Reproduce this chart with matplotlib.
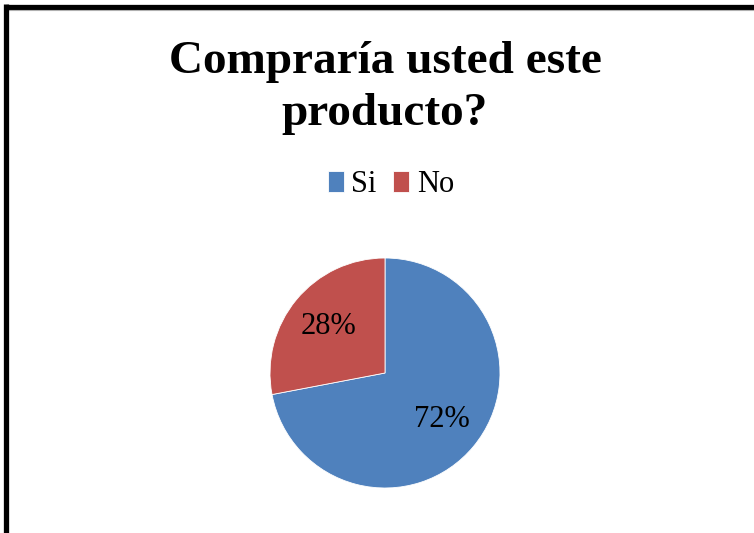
import matplotlib
matplotlib.use("Agg")
import matplotlib.pyplot as plt
from matplotlib.lines import Line2D

# survey answers
labels = ["Si", "No"]
values = [72, 28]
colors = ["#4F81BD", "#C0504D"]
title = "Compraría usted este\nproducto?"

W, H = 754, 533
fig = plt.figure(figsize=(W / 100, H / 100), dpi=100)
fig.patch.set_facecolor("white")

serif = ["Liberation Serif", "DejaVu Serif"]

# frame (top and left only visible)
fig.add_artist(Line2D([5.5 / W, 1], [1 - 6.5 / H, 1 - 6.5 / H], transform=fig.transFigure,
                      color="black", lw=3.8, solid_capstyle="butt"))
fig.add_artist(Line2D([5.5 / W, 1], [1 - 9.5 / H, 1 - 9.5 / H], transform=fig.transFigure,
                      color="#b0b0b0", lw=0.8, solid_capstyle="butt"))
fig.add_artist(Line2D([5.5 / W, 5.5 / W], [0, 1 - 4 / H], transform=fig.transFigure,
                      color="black", lw=3.8, solid_capstyle="butt"))

fig.text(385 / W, 1 - 88 / H, title, ha="center", va="center", fontsize=34,
         fontweight="bold", family=serif, linespacing=1.3)

cx, cy, r = 385, 373, 115
ax = fig.add_axes([(cx - r) / W, (H - cy - r) / H, 2 * r / W, 2 * r / H])
wedges, texts, autotexts = ax.pie(values, colors=colors, startangle=90, counterclock=False,
                                  autopct="%1.0f%%", pctdistance=0.64,
                                  wedgeprops=dict(edgecolor="white", linewidth=0.6),
                                  textprops=dict(fontsize=22, family=serif, color="black"))
ax.set_xlim(-1, 1)
ax.set_ylim(-1, 1)
ax.set_aspect("equal")
ax.axis("off")

leg = fig.legend(wedges, labels, loc="center", bbox_to_anchor=(391 / W, 1 - 185 / H), ncol=2,
                 frameon=False, prop=dict(family=serif, size=22),
                 handlelength=0.52, handleheight=0.68, handletextpad=0.25,
                 columnspacing=0.55)

fig.savefig("out.png", dpi=100)
